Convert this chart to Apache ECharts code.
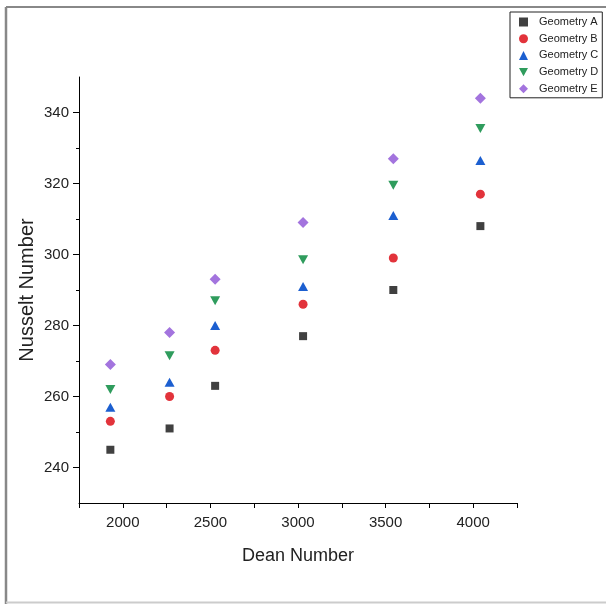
<!DOCTYPE html>
<html>
<head>
<meta charset="utf-8">
<script src="https://cdn.jsdelivr.net/npm/echarts@6/dist/echarts.min.js"></script>
<style>
html,body{margin:0;padding:0;background:#fff;}
#chart{width:606px;height:604px;}
</style>
</head>
<body>
<div id="chart"></div>
<script>
//数据
var deanNumber = [1929, 2267, 2527, 3029, 3544, 4041];
var geometryA = [245, 251, 263, 277, 290, 308];
var geometryB = [253, 260, 273, 286, 299, 317];
var geometryC = [257, 264, 280, 291, 311, 326.5];
var geometryD = [262, 271.5, 287, 298.5, 319.5, 335.5];
var geometryE = [269, 278, 293, 309, 327, 344];
var seriesNames = ['Geometry A', 'Geometry B', 'Geometry C', 'Geometry D', 'Geometry E'];
var yMajor = [240, 260, 280, 300, 320, 340];
var yMinor = [250, 270, 290, 310, 330];
var xLabels = [2000, 2500, 3000, 3500, 4000];

var font = 'Liberation Sans, Arial, sans-serif';

function pairs(ys){
    var arr = [];
    for(var i = 0, len = ys.length; i < len; i++){
        arr.push([deanNumber[i], ys[i]]);
    }
    return arr;
}

//散点系列
function makeSeries(name, ys, color, symbol, size, rotate){
    return {
        name: name,
        type: 'scatter',
        yAxisIndex: 0,
        symbol: symbol,
        symbolSize: size,
        symbolRotate: rotate || 0,
        itemStyle: {color: color, opacity: 1},
        data: pairs(ys)
    };
}

var e = echarts.init(document.getElementById('chart'), null, {renderer: 'canvas'});
var option = {
    backgroundColor: '#fff',
    animation: false,
    textStyle: {fontFamily: font},
    grid: {left: 79, right: 89, top: 77, bottom: 101},
    legend: {
        orient: 'vertical',
        left: 510,
        top: 12,
        padding: [4, 4, 3, 9],
        itemWidth: 9,
        itemHeight: 9,
        itemGap: 4.7,
        borderColor: '#222',
        borderWidth: 1,
        textStyle: {fontFamily: font, fontSize: 11, color: '#222', lineHeight: 12, padding: [0, 0, 0, 6]},
        data: [
            {name: seriesNames[0]},
            {name: seriesNames[1]},
            {name: seriesNames[2]},
            {name: seriesNames[3], icon: 'path://M0,0 L10,0 L5,9 Z'},
            {name: seriesNames[4]}
        ]
    },
    xAxis: {
        type: 'value',
        min: 1750,
        max: 4250,
        interval: 250,
        name: 'Dean Number',
        nameLocation: 'middle',
        nameGap: 44,
        nameMoveOverlap: false,
        nameTextStyle: {fontFamily: font, fontSize: 18, color: '#222'},
        axisLine: {show: true, lineStyle: {color: '#000', width: 1}},
        axisTick: {show: true, inside: false, length: 5, lineStyle: {color: '#000'}},
        axisLabel: {
            customValues: xLabels,
            margin: 12,
            fontFamily: font,
            fontSize: 15,
            color: '#222',
            formatter: function(v){ return String(v); }
        },
        splitLine: {show: false}
    },
    yAxis: [
        {
            type: 'value',
            min: 230,
            max: 350,
            name: 'Nusselt Number',
            nameLocation: 'middle',
            nameGap: 42,
            nameMoveOverlap: false,
            nameTextStyle: {fontFamily: font, fontSize: 20, color: '#222'},
            axisLine: {show: true, onZero: false, lineStyle: {color: '#000', width: 1}},
            axisTick: {show: true, length: 6, customValues: yMajor, lineStyle: {color: '#000'}},
            axisLabel: {customValues: yMajor, margin: 10, fontFamily: font, fontSize: 15, color: '#222'},
            splitLine: {show: false}
        },
        {
            //副刻度
            type: 'value',
            position: 'left',
            min: 230,
            max: 350,
            axisLine: {show: false},
            axisTick: {show: true, length: 3, customValues: yMinor, lineStyle: {color: '#000'}},
            axisLabel: {show: false},
            splitLine: {show: false}
        }
    ],
    graphic: [
        //外框
        {type: 'line', shape: {x1: 6, y1: 7, x2: 6, y2: 604}, style: {stroke: '#888', lineWidth: 2.5}},
        {type: 'line', shape: {x1: 6, y1: 7, x2: 606, y2: 7}, style: {stroke: '#888', lineWidth: 2}},
        {type: 'line', shape: {x1: 6, y1: 602.5, x2: 606, y2: 602.5}, style: {stroke: '#ccc', lineWidth: 2}}
    ],
    series: [
        makeSeries(seriesNames[0], geometryA, '#404040', 'rect', 8),
        makeSeries(seriesNames[1], geometryB, '#e2333b', 'circle', 9),
        makeSeries(seriesNames[2], geometryC, '#1c5fd0', 'triangle', [10, 9]),
        makeSeries(seriesNames[3], geometryD, '#2f9c5d', 'triangle', [10, 9], 180),
        makeSeries(seriesNames[4], geometryE, '#a374de', 'diamond', [11, 11])
    ]
};
e.setOption(option);
</script>
</body>
</html>
